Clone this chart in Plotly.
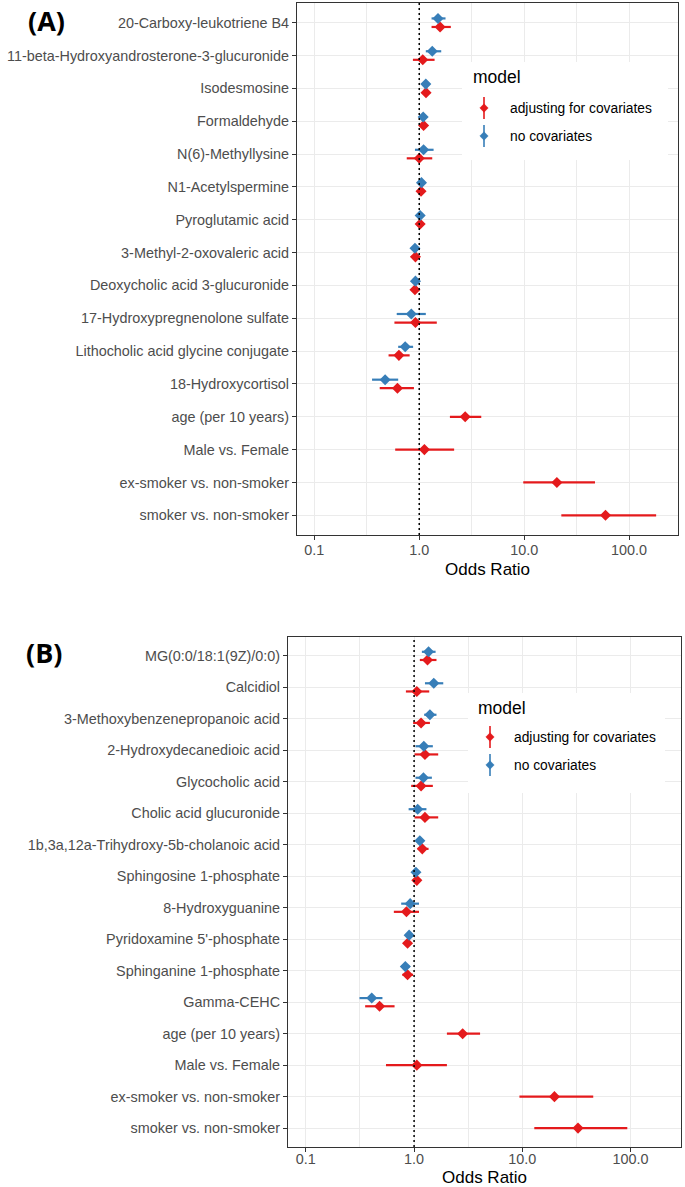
import plotly.graph_objects as go

W, H = 685, 1187

# ---------------- data: panel A ----------------
labels_A = ["20-Carboxy-leukotriene B4", "11-beta-Hydroxyandrosterone-3-glucuronide",
            "Isodesmosine", "Formaldehyde", "N(6)-Methyllysine", "N1-Acetylspermine",
            "Pyroglutamic acid", "3-Methyl-2-oxovaleric acid", "Deoxycholic acid 3-glucuronide",
            "17-Hydroxypregnenolone sulfate", "Lithocholic acid glycine conjugate",
            "18-Hydroxycortisol", "age (per 10 years)", "Male vs. Female",
            "ex-smoker vs. non-smoker", "smoker vs. non-smoker"]
adj_or_A = [1.58, 1.08, 1.16, 1.10, 1.00, 1.04, 1.02, 0.92, 0.91, 0.92, 0.64, 0.62, 2.74, 1.12, 20.5, 59.6]
adj_lo_A = [1.31, 0.87, 1.10, 1.02, 0.76, 0.98, 0.96, 0.86, 0.85, 0.58, 0.51, 0.42, 1.96, 0.59, 9.8, 22.6]
adj_hi_A = [2.00, 1.40, 1.22, 1.18, 1.33, 1.10, 1.08, 0.98, 0.97, 1.47, 0.81, 0.89, 3.90, 2.15, 47.3, 181.0]
raw_or_A = [1.51, 1.33, 1.155, 1.09, 1.10, 1.05, 1.02, 0.91, 0.92, 0.84, 0.735, 0.473]
raw_lo_A = [1.31, 1.155, 1.10, 1.02, 0.91, 0.99, 0.96, 0.86, 0.87, 0.61, 0.63, 0.355]
raw_hi_A = [1.78, 1.62, 1.21, 1.17, 1.37, 1.12, 1.09, 0.97, 0.98, 1.155, 0.874, 0.63]

# ---------------- data: panel B ----------------
labels_B = ["MG(0:0/18:1(9Z)/0:0)", "Calcidiol", "3-Methoxybenzenepropanoic acid",
            "2-Hydroxydecanedioic acid", "Glycocholic acid", "Cholic acid glucuronide",
            "1b,3a,12a-Trihydroxy-5b-cholanoic acid", "Sphingosine 1-phosphate",
            "8-Hydroxyguanine", "Pyridoxamine 5'-phosphate", "Sphinganine 1-phosphate",
            "Gamma-CEHC", "age (per 10 years)", "Male vs. Female",
            "ex-smoker vs. non-smoker", "smoker vs. non-smoker"]
adj_or_B = [1.33, 1.06, 1.16, 1.26, 1.16, 1.26, 1.19, 1.06, 0.85, 0.87, 0.87, 0.48, 2.81, 1.06, 19.8, 32.7]
adj_lo_B = [1.13, 0.84, 0.98, 1.01, 0.94, 1.01, 1.08, 0.99, 0.65, 0.81, 0.78, 0.353, 2.01, 0.55, 9.4, 12.9]
adj_hi_B = [1.61, 1.38, 1.40, 1.67, 1.49, 1.67, 1.36, 1.13, 1.11, 0.94, 0.98, 0.66, 4.07, 2.01, 45.2, 93.3]
raw_or_B = [1.36, 1.52, 1.40, 1.23, 1.22, 1.08, 1.13, 1.04, 0.92, 0.90, 0.83, 0.406]
raw_lo_B = [1.18, 1.26, 1.24, 1.03, 1.03, 0.89, 1.05, 0.98, 0.76, 0.85, 0.76, 0.313]
raw_hi_B = [1.58, 1.86, 1.61, 1.49, 1.46, 1.30, 1.22, 1.10, 1.11, 0.96, 0.91, 0.51]

x_tickvals = [0.1, 1, 10, 100]
x_ticktext = ["0.1", "1.0", "10.0", "100.0"]
x_minor = [0.316, 3.16, 31.6, 316]

legend_names = ["adjusting for covariates", "no covariates"]
RED = "#E41A1C"
BLUE = "#377EB8"
FONT = "Liberation Sans"


def px(x):
    return x / W


def py(y):
    return 1 - y / H


fig = go.Figure()

DODGE = 0.13


def add_panel(fig, labels, adj_or, adj_lo, adj_hi, raw_or, raw_lo, raw_hi, xa, ya):
    n = len(labels)
    nraw = len(raw_or)
    ypos_adj = [(n - 1 - i) - (DODGE if i < nraw else 0) for i in range(n)]
    ypos_raw = [(n - 1 - i) + DODGE for i in range(nraw)]
    fig.add_trace(go.Scatter(
        x=adj_or, y=ypos_adj, mode="markers", xaxis=xa, yaxis=ya, showlegend=False,
        name=legend_names[0],
        marker=dict(symbol="diamond", size=8.5, color=RED),
        error_x=dict(type="data", symmetric=False,
                     array=[h - v for h, v in zip(adj_hi, adj_or)],
                     arrayminus=[v - l for v, l in zip(adj_or, adj_lo)],
                     color=RED, thickness=2.2, width=0)))
    fig.add_trace(go.Scatter(
        x=raw_or, y=ypos_raw, mode="markers", xaxis=xa, yaxis=ya, showlegend=False,
        name=legend_names[1],
        marker=dict(symbol="diamond", size=8.5, color=BLUE),
        error_x=dict(type="data", symmetric=False,
                     array=[h - v for h, v in zip(raw_hi, raw_or)],
                     arrayminus=[v - l for v, l in zip(raw_or, raw_lo)],
                     color=BLUE, thickness=2.2, width=0)))


add_panel(fig, labels_A, adj_or_A, adj_lo_A, adj_hi_A, raw_or_A, raw_lo_A, raw_hi_A, "x", "y")
add_panel(fig, labels_B, adj_or_B, adj_lo_B, adj_hi_B, raw_or_B, raw_lo_B, raw_hi_B, "x2", "y2")

xrange_log = [-1.165, 2.466]
TICKSIZE = 14.4


def xaxis_cfg(domain, anchor, standoff):
    return dict(
        type="log", range=xrange_log, domain=domain, anchor=anchor,
        tickvals=x_tickvals, ticktext=x_ticktext,
        ticks="outside", ticklen=4, tickwidth=1.1, tickcolor="#333333",
        tickfont=dict(family=FONT, size=TICKSIZE, color="#4D4D4D"),
        ticklabelstandoff=standoff,
        showgrid=True, gridcolor="#EBEBEB", gridwidth=1.1,
        minor=dict(tickvals=x_minor, showgrid=True, gridcolor="#EBEBEB", gridwidth=0.6, ticks=""),
        showline=True, mirror=True, linecolor="#333333", linewidth=1.1,
        zeroline=False,
    )


def yaxis_cfg(domain, anchor, labels):
    n = len(labels)
    return dict(
        range=[-0.6, n - 0.4], domain=domain, anchor=anchor,
        tickvals=[n - 1 - i for i in range(n)], ticktext=labels,
        ticks="outside", ticklen=4, tickwidth=1.1, tickcolor="#333333",
        tickfont=dict(family=FONT, size=TICKSIZE, color="#4D4D4D"),
        showgrid=True, gridcolor="#EBEBEB", gridwidth=1.1,
        showline=True, mirror=True, linecolor="#333333", linewidth=1.1,
        zeroline=False,
    )


fig.update_layout(
    width=W, height=H,
    margin=dict(l=0, r=0, t=0, b=0),
    paper_bgcolor="white", plot_bgcolor="white",
    showlegend=False,
    xaxis=xaxis_cfg([px(297), px(678)], "y", -2),
    yaxis=yaxis_cfg([py(535), py(3)], "x", labels_A),
    xaxis2=xaxis_cfg([px(288), px(681)], "y2", -5),
    yaxis2=yaxis_cfg([py(1147), py(637)], "x2", labels_B),
)

shapes = []
annotations = []

# reference dotted line at OR = 1
for xr, yr in [("x", "y domain"), ("x2", "y2 domain")]:
    shapes.append(dict(type="line", xref=xr, yref=yr, x0=1, x1=1, y0=0, y1=1,
                       line=dict(color="black", width=1.5, dash="2px,3px"), layer="above"))

# axis titles
for cx, cy in [((297 + 678) / 2, 570), ((288 + 681) / 2, 1177)]:
    annotations.append(dict(text="Odds Ratio", xref="paper", yref="paper",
                            x=px(cx), y=py(cy), xanchor="center", yanchor="middle",
                            showarrow=False, font=dict(family=FONT, size=17, color="black")))


def add_legend(left, right, top, bottom, title_x, title_y, glyph_x, text_x, entry_ys):
    shapes.append(dict(type="rect", xref="paper", yref="paper",
                       x0=px(left), x1=px(right), y0=py(bottom), y1=py(top),
                       fillcolor="white", line=dict(width=0), layer="above"))
    annotations.append(dict(text="model", xref="paper", yref="paper",
                            x=px(title_x), y=py(title_y), xanchor="left", yanchor="middle",
                            showarrow=False, font=dict(family=FONT, size=17.5, color="black")))
    for name, col, ey in zip(legend_names, [RED, BLUE], entry_ys):
        shapes.append(dict(type="line", xref="paper", yref="paper",
                           x0=px(glyph_x), x1=px(glyph_x), y0=py(ey - 11), y1=py(ey + 11),
                           line=dict(color=col, width=1.6), layer="above"))
        d = 4.2
        path = "M {},{} L {},{} L {},{} L {},{} Z".format(
            px(glyph_x), py(ey - d), px(glyph_x + d), py(ey),
            px(glyph_x), py(ey + d), px(glyph_x - d), py(ey))
        shapes.append(dict(type="path", xref="paper", yref="paper", path=path,
                           fillcolor=col, line=dict(color=col, width=0.5), layer="above"))
        annotations.append(dict(text=name, xref="paper", yref="paper",
                                x=px(text_x), y=py(ey), xanchor="left", yanchor="middle",
                                showarrow=False, font=dict(family=FONT, size=13.8, color="black")))


add_legend(462, 668, 62, 160, 471, 77, 484, 508, [108, 136])
add_legend(468, 665, 693, 793, 476, 708, 490, 512, [737, 765])

# panel labels
annotations.append(dict(text="<b>(A)</b>", xref="paper", yref="paper", x=px(46), y=py(20),
                        xanchor="center", yanchor="middle", showarrow=False,
                        font=dict(family="Open Sans", size=27, color="black")))
annotations.append(dict(text="<b>(B)</b>", xref="paper", yref="paper", x=px(44), y=py(652),
                        xanchor="center", yanchor="middle", showarrow=False,
                        font=dict(family="Open Sans", size=27, color="black")))

fig.update_layout(shapes=shapes, annotations=annotations)

# remove the default page margin so the figure sits at the window's corner
fig.write_html("out.html", config={"displayModeBar": False},
               post_script="document.body.style.margin='0px';")
